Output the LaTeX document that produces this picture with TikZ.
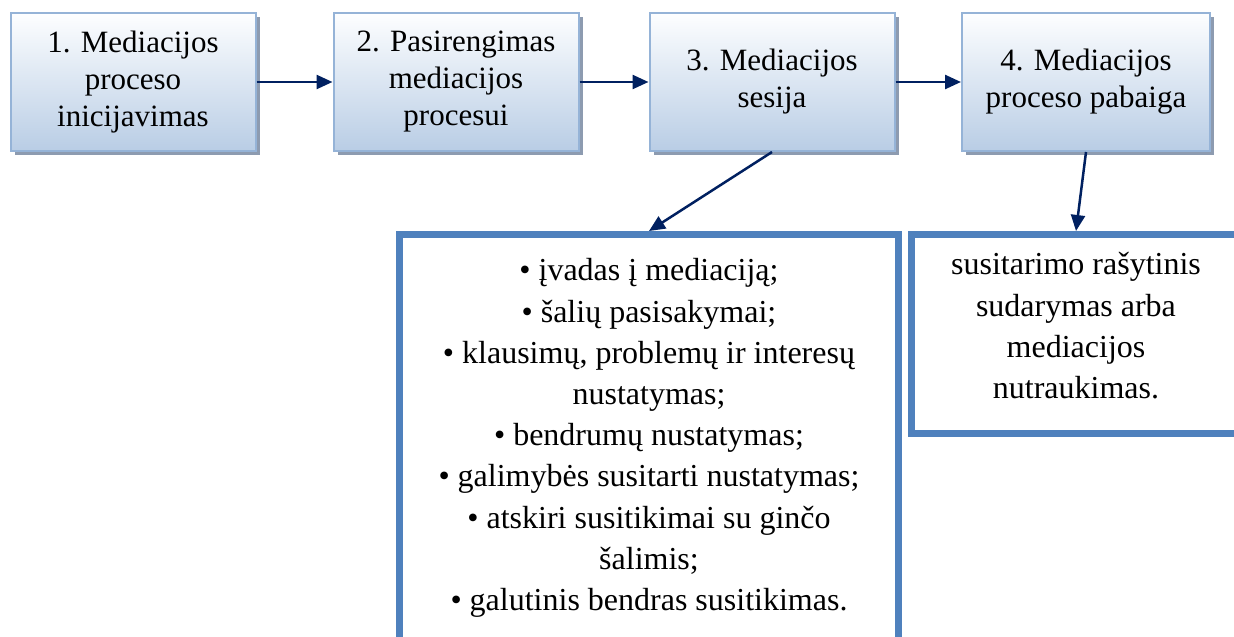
\documentclass[tikz,border=0pt]{standalone}
\usepackage{fontspec}
\setmainfont{Liberation Serif}
\usepackage{tikz}
\usetikzlibrary{arrows.meta}
\usetikzlibrary{shadows}
\definecolor{boxline}{RGB}{149,179,215}
\definecolor{boxtop}{RGB}{253,254,255}
\definecolor{boxbottom}{RGB}{185,205,229}
\definecolor{boxshadow}{RGB}{141,155,176}
\definecolor{listline}{RGB}{79,129,189}
\definecolor{navy}{RGB}{0,32,96}
\tikzstyle{stage} = [rectangle, draw=boxline, line width=2pt, top color=boxtop, bottom color=boxbottom, minimum width=245pt, minimum height=138pt, align=center, font=\fontsize{31}{37}\selectfont, drop shadow={shadow xshift=4pt, shadow yshift=-4pt, fill=boxshadow, opacity=1}]
\tikzstyle{outcome} = [rectangle, draw=listline, line width=7pt, fill=white, align=center, font=\fontsize{32}{41.2}\selectfont]
\tikzstyle{flow} = [line width=2.5pt, navy, -{Triangle[length=16pt,width=14pt]}]

\begin{document}
\begin{tikzpicture}[x=1pt,y=-1pt]
			\useasboundingbox (0,0) rectangle (1234,637);
			\node[stage] (init) at (133,82) {1. Mediacijos\\proceso\\inicijavimas};
			\node[stage] (prep) at (456,82) {2. Pasirengimas\\mediacijos\\procesui};
			\node[stage] (session) at (772,82) {3. Mediacijos\\sesija};
			\node[stage, minimum width=248pt] (finish) at (1086,82) {4. Mediacijos\\proceso pabaiga};
			\node[outcome, minimum width=499pt, minimum height=407pt] (sessionlist) at (649,438) {• įvadas į mediaciją;\\• šalių pasisakymai;\\• klausimų, problemų ir interesų\\nustatymas;\\• bendrumų nustatymas;\\• galimybės susitarti nustatymas;\\• atskiri susitikimai su ginčo\\šalimis;\\• galutinis bendras susitikimas.};
			\node[outcome, minimum width=329pt, minimum height=199pt, text depth=17pt] (finishnote) at (1076,334) {susitarimo rašytinis\\sudarymas arba\\mediacijos\\nutraukimas.};
			\draw[flow] (init) -- (prep);
			\draw[flow] (prep) -- (session);
			\draw[flow] (session) -- (finish);
			\draw[flow] (session.south) -- (sessionlist.north);
			\draw[flow] (finish.south) -- (finishnote.north);
		\end{tikzpicture}
\end{document}
